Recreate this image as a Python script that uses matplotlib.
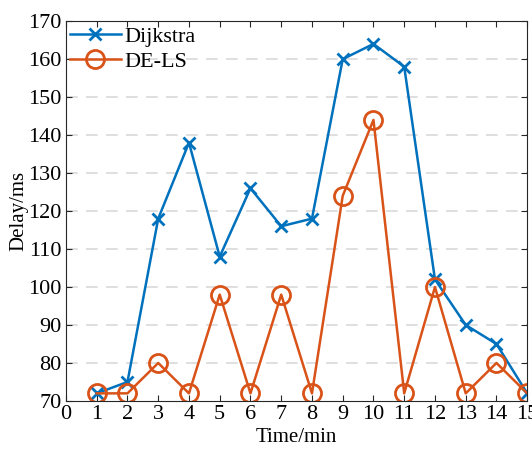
import numpy as np
import matplotlib.pyplot as plt

# time steps and delays
time_min = [1, 2, 3, 4, 5, 6, 7, 8, 9, 10, 11, 12, 13, 14, 15]
dijkstra = [72, 75, 118, 138, 108, 126, 116, 118, 160, 164, 158, 102, 90, 85, 72]
de_ls = [72, 72, 80, 72, 98, 72, 98, 72, 124, 144, 72, 100, 72, 80, 72]

plt.rcParams['font.family'] = ['Liberation Serif', 'DejaVu Serif']

fig = plt.figure(figsize=(5.32, 4.5), dpi=100)
ax = fig.add_axes([0.124, 0.109, 0.867, 0.844])

ax.plot(time_min, dijkstra, color='#0072BD', marker='x', markersize=9,
        markeredgewidth=2, linewidth=1.8, label='Dijkstra')
ax.plot(time_min, de_ls, color='#D95319', marker='o', markersize=13,
        markerfacecolor='none', markeredgewidth=2, linewidth=1.8, label='DE-LS')

ax.set_xlim(0, 15)
ax.set_ylim(70, 170)
ax.set_xticks(np.arange(0, 16, 1))
ax.set_yticks(np.arange(70, 171, 10))
ax.tick_params(direction='in', top=True, right=True, labelsize=16,
               length=4, color='#262626', pad=3)
for y in range(80, 170, 10):
    ax.axhline(y, color='#d9d9d9', linestyle=(0, (7, 5)), linewidth=1.2, zorder=0)
for s in ax.spines.values():
    s.set_color('#262626')
    s.set_linewidth(0.8)

ax.set_xlabel('Time/min', fontsize=15, labelpad=3)
ax.set_ylabel('Delay/ms', fontsize=15, labelpad=0)
ax.legend(loc='upper left', bbox_to_anchor=(-0.035, 1.04), frameon=False,
          fontsize=16, handlelength=2.3, handletextpad=0.15, labelspacing=0.2)

fig.savefig('out.png', dpi=100)
